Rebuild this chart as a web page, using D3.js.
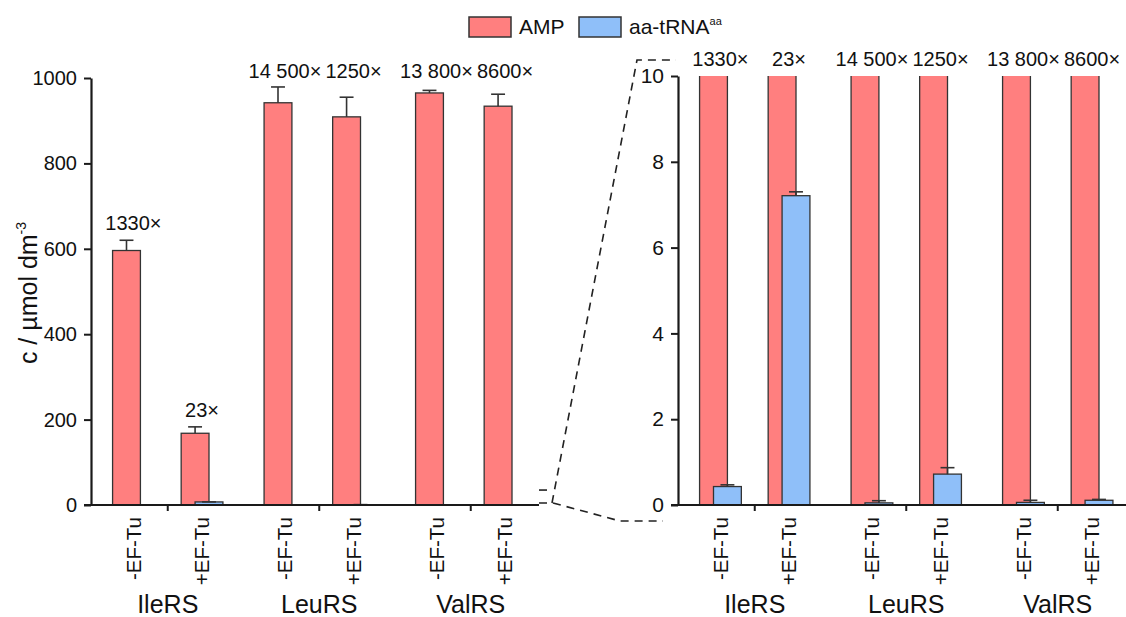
<!DOCTYPE html>
<html><head><meta charset="utf-8">
<script src="https://cdn.jsdelivr.net/npm/d3@7"></script>
<style>
body{margin:0;background:#fff;}
svg{display:block;font-family:"Liberation Sans",Arial,sans-serif;}
</style></head>
<body><svg id="c" width="1126" height="617"></svg>
<script>
const groups = ["IleRS","LeuRS","ValRS"];
const conditions = ["-EF-Tu","+EF-Tu"];
const ampValues = [596, 168, 942, 909, 965, 934];
const ampErrors = [24, 15, 37, 46, 6, 28];
const trnaValues = [0.43, 7.21, 0.05, 0.72, 0.06, 0.11];
const trnaErrors = [0.04, 0.09, 0.05, 0.15, 0.05, 0.02];
const ratioLabels = ["1330×","23×","14 500×","1250×","13 800×","8600×"];
const leftTicks = [0,200,400,600,800,1000];
const rightTicks = [0,2,4,6,8,10];
const seriesNames = ["AMP","aa-tRNA"];

const RED="#ff7f7f", BLUE="#8fbff9", STROKE="#333", AX="#1a1a1a";
const svg = d3.select("#c");

const rows = [];
groups.forEach((g,gi)=>conditions.forEach((c,ci)=>{
  const i=gi*2+ci;
  rows.push({g,c,i,amp:ampValues[i],ampE:ampErrors[i],tr:trnaValues[i],trE:trnaErrors[i],lab:ratioLabels[i]});
}));

function panel(opts){
  const {xRange,axisEnd,y,ticks,showAllLabelsRow,clip,tickFont} = opts;
  const xg = d3.scaleBand().domain(groups).range(xRange);
  const xi = d3.scaleBand().domain(conditions).range([0,xg.bandwidth()]).paddingInner(0.391).paddingOuter(0.30);
  const bw = xi.bandwidth()*2/3;
  const g = svg.append("g");
  const slotX = d=>xg(d.g)+xi(d.c);
  const x0 = xRange[0]-1;

  let redG = g.append("g");
  if(clip){
    const id="clipR";
    svg.append("defs").append("clipPath").attr("id",id).append("rect")
      .attr("x",x0).attr("y",y.range()[1]).attr("width",axisEnd-x0).attr("height",y.range()[0]-y.range()[1]);
    redG.attr("clip-path",`url(#${id})`);
  }
  redG.selectAll("rect").data(rows).join("rect")
    .attr("x",d=>slotX(d)).attr("width",bw)
    .attr("y",d=>y(d.amp)).attr("height",d=>y(0)-y(d.amp))
    .attr("fill",RED).attr("stroke",STROKE).attr("stroke-width",1.3);
  const errG = redG.append("g").attr("stroke",STROKE).attr("stroke-width",1.6).attr("fill","none");
  rows.forEach(d=>{
    const cx=slotX(d)+bw/2;
    errG.append("line").attr("x1",cx).attr("x2",cx).attr("y1",y(d.amp)).attr("y2",y(d.amp+d.ampE));
    errG.append("line").attr("x1",cx-bw/4).attr("x2",cx+bw/4).attr("y1",y(d.amp+d.ampE)).attr("y2",y(d.amp+d.ampE));
  });
  const blueG = g.append("g");
  blueG.selectAll("rect").data(rows).join("rect")
    .attr("x",d=>slotX(d)+bw/2).attr("width",bw)
    .attr("y",d=>y(d.tr)).attr("height",d=>Math.max(0,y(0)-y(d.tr)))
    .attr("fill",BLUE).attr("stroke",STROKE).attr("stroke-width",1.3);
  const errB = blueG.append("g").attr("stroke",STROKE).attr("stroke-width",1.6);
  rows.forEach(d=>{
    const cx=slotX(d)+bw;
    errB.append("line").attr("x1",cx).attr("x2",cx).attr("y1",y(d.tr)).attr("y2",y(d.tr+d.trE));
    errB.append("line").attr("x1",cx-bw/4).attr("x2",cx+bw/4).attr("y1",y(d.tr+d.trE)).attr("y2",y(d.tr+d.trE));
  });

  const ya = g.append("g").attr("transform",`translate(${x0},0)`)
    .call(d3.axisLeft(y).tickValues(ticks).tickFormat(d3.format("d")).tickSize(7).tickSizeOuter(0).tickPadding(7));
  ya.select(".domain").attr("stroke",AX).attr("stroke-width",2.2);
  ya.selectAll(".tick line").attr("stroke",AX).attr("stroke-width",2);
  ya.selectAll(".tick text").attr("font-size",tickFont).attr("fill","#111").attr("font-family",null);

  g.append("line").attr("x1",x0-7).attr("x2",axisEnd).attr("y1",y(0)).attr("y2",y(0))
    .attr("stroke",AX).attr("stroke-width",2.2);
  const xa = g.append("g").attr("transform",`translate(0,${y(0)})`)
    .call(d3.axisBottom(xg).tickSize(6).tickFormat(""));
  xa.select(".domain").remove();
  xa.selectAll(".tick line").attr("stroke",AX).attr("stroke-width",2);

  g.selectAll("text.cond").data(rows).join("text").attr("class","cond")
    .attr("transform",d=>`translate(${slotX(d)+xi.bandwidth()/2},${y(0)+12}) rotate(-90)`)
    .attr("dy","0.35em").attr("text-anchor","end").attr("font-size",20.5).attr("fill","#111")
    .text(d=>d.c);
  g.selectAll("text.grp").data(groups).join("text").attr("class","grp")
    .attr("x",d=>xg(d)+xg.bandwidth()/2).attr("y",613)
    .attr("text-anchor","middle").attr("font-size",25).attr("fill","#111").text(d=>d);

  const groupMax = {};
  rows.forEach(d=>{groupMax[d.g]=Math.max(groupMax[d.g]||0,d.amp+d.ampE);});
  const topRow = y(y.domain()[1]);
  g.selectAll("text.rat").data(rows).join("text").attr("class","rat")
    .attr("x",d=>slotX(d)+xi.bandwidth()/2)
    .attr("y",d=>{
      if(showAllLabelsRow) return topRow-10;
      return groupMax[d.g]>y.domain()[1]*0.9 ? topRow : y(d.amp+d.ampE)-10;
    })
    .attr("text-anchor","middle").attr("font-size",20).attr("fill","#111").text(d=>d.lab);
  return {xg,xi,y};
}

const yL = d3.scaleLinear().domain([0,1000]).range([505,78]);
const yR = d3.scaleLinear().domain([0,10]).range([505,76]);
panel({xRange:[92,546.5],axisEnd:539,y:yL,ticks:leftTicks,showAllLabelsRow:false,clip:false,tickFont:20});
panel({xRange:[679,1133.5],axisEnd:1126,y:yR,ticks:rightTicks,showAllLabelsRow:true,clip:true,tickFont:21});

const dash = svg.append("g").attr("fill","none").attr("stroke","#222").attr("stroke-width",1.6).attr("stroke-dasharray","8,6");
const bx = 553;
dash.append("path").attr("d",`M539,${yL(35)}H${bx-3}`);
dash.append("path").attr("d",`M539,${yL(0)-2}H${bx}L620,${yR(0)+16}H663`);
dash.append("path").attr("d",`M${bx-1},${yL(0)-2}L637,${yR(10)-16}H676`);

const yt = svg.append("text").attr("transform","translate(37,293) rotate(-90)")
  .attr("text-anchor","middle").attr("font-size",25).attr("fill","#111");
yt.append("tspan").text("c / µmol dm");
yt.append("tspan").attr("font-size",14).attr("dy",-11).text("-3");

const leg = svg.append("g");
const lx = [469,579];
const cols=[RED,BLUE];
seriesNames.forEach((s,i)=>{
  leg.append("rect").attr("x",lx[i]).attr("y",17).attr("width",42).attr("height",20)
    .attr("fill",cols[i]).attr("stroke",STROKE).attr("stroke-width",1.5);
  const t=leg.append("text").attr("x",lx[i]+50).attr("y",34).attr("font-size",21).attr("fill","#111");
  t.append("tspan").text(s);
  if(i===1) t.append("tspan").attr("font-size",11).attr("dy",-9).text("aa");
});
</script></body></html>
